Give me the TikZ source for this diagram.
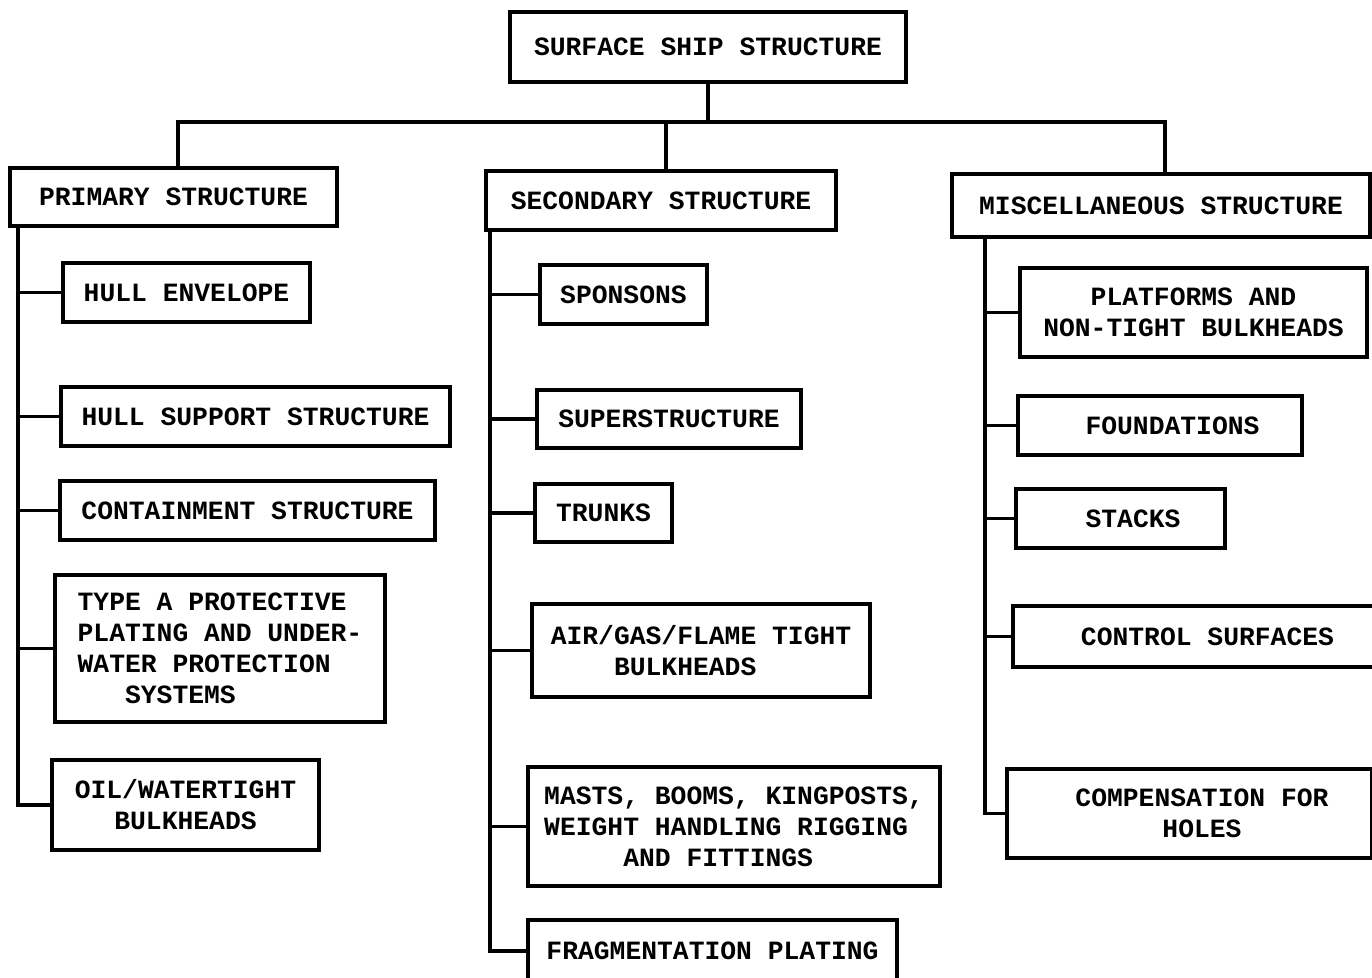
\documentclass[tikz,border=0pt]{standalone}
\usepackage{fontspec}
\usepackage{tikz}
\usetikzlibrary{positioning,calc}
\newfontfamily\typew{Liberation Mono}
\newcommand{\rsh}{\hspace*{0.5cm}}

\begin{document}
\begin{tikzpicture}[x=0.02cm, y=-0.02cm, line width=2pt,
  font=\typew\bfseries\fontsize{15}{17.6}\selectfont,
  wh/.style 2 args={minimum width=#1*0.02cm, minimum height=#2*0.02cm},
  box/.style={draw=black, rectangle, align=center, inner sep=2pt},
  lnk/.style={draw=black, line width=2pt}]
  \useasboundingbox (0,0) rectangle (1372,977);
  % --- top and the three groups
  \node[box, wh={396}{70}] (top)  at (708,47)    {SURFACE SHIP STRUCTURE};
  \node[box, wh={327}{58}] (prim) at (173.5,197) {PRIMARY STRUCTURE};
  \node[box, wh={350}{59}] (sec)  at (661,200.5) {SECONDARY STRUCTURE};
  \node[box, wh={418}{63}] (misc) at (1161,205.5) {MISCELLANEOUS STRUCTURE};
  \coordinate (bus) at (705,122);
  \draw[lnk] (top.south) -- (top.south |- bus);
  \draw[lnk] ([xshift=0.09cm]prim.north) |- ([xshift=0.08cm]misc.north |- bus)
             -- ([xshift=0.08cm]misc.north);
  \draw[lnk] ([xshift=0.1cm]sec.north) -- ([xshift=0.1cm]sec.north |- bus);
  % --- primary structure
  \node[box, wh={247}{59}]  (hull) at (186.5,292.5) {HULL ENVELOPE};
  \node[box, wh={389}{59}]  (hsup) at (255.5,416.5) {HULL SUPPORT STRUCTURE};
  \node[box, wh={375}{59}]  (cont) at (247.5,510.5) {CONTAINMENT STRUCTURE};
  \node[box, wh={330}{147}, align=left] (typa) at (220,648.5)
    {TYPE A PROTECTIVE\\PLATING AND UNDER-\\WATER PROTECTION\\\phantom{XXX}SYSTEMS};
  \node[box, wh={267}{90}]  (oilw) at (185.5,805) {OIL/WATERTIGHT\\BULKHEADS};
  \coordinate (pspine) at (18,226);
  \draw[lnk] (pspine) |- (oilw.west);
  \foreach \n in {hull,hsup,cont,typa}
    \draw[lnk] (\n.west) -- (\n.west -| pspine);
  % --- secondary structure
  \node[box, wh={167}{59}]  (spon) at (623.5,294.5) {SPONSONS};
  \node[box, wh={264}{58}]  (supr) at (669,419)   {SUPERSTRUCTURE};
  \node[box, wh={137}{58}]  (trnk) at (603.5,513) {TRUNKS};
  \node[box, wh={338}{93}, align=left]  (agft) at (701,650.5)
    {AIR/GAS/FLAME TIGHT\\\phantom{XXXX}BULKHEADS};
  \node[box, wh={412}{119}, align=left] (mast) at (734,826.5)
    {MASTS, BOOMS, KINGPOSTS,\\WEIGHT HANDLING RIGGING\\\phantom{XXXXX}AND FITTINGS};
  \node[box, wh={369}{62}]  (frag) at (712.5,951) {FRAGMENTATION PLATING};
  \coordinate (sspine) at (490,230);
  \draw[lnk] (sspine) |- (frag.west);
  \foreach \n in {spon,supr,trnk,agft,mast}
    \draw[lnk] (\n.west) -- (\n.west -| sspine);
  % --- miscellaneous structure
  \node[box, wh={347}{89}]  (plat) at (1193.5,312.5) {PLATFORMS AND\\NON-TIGHT BULKHEADS};
  \node[box, wh={284}{59}]  (fndn) at (1160,425.5) {\rsh FOUNDATIONS};
  \node[box, wh={209}{59}]  (stck) at (1120.5,518.5) {\rsh STACKS};
  \node[box, wh={364}{61}]  (ctrl) at (1195,636.5) {\rsh CONTROL SURFACES};
  \node[box, wh={365}{89}]  (comp) at (1189.5,813.5) {\rsh COMPENSATION FOR\\\rsh HOLES};
  \coordinate (mspine) at (985,237);
  \draw[lnk] (mspine) |- (comp.west);
  \foreach \n in {plat,fndn,stck,ctrl}
    \draw[lnk] (\n.west) -- (\n.west -| mspine);
\end{tikzpicture}
\end{document}
